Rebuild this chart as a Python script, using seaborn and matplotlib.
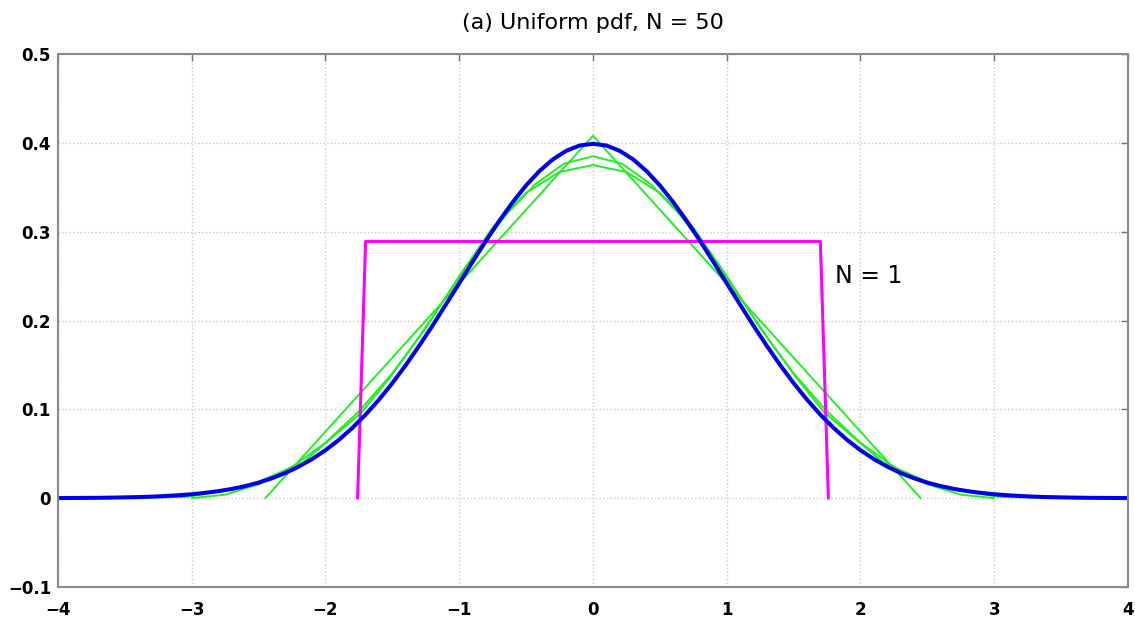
"""Sum of N uniform variables converging to the Gaussian pdf."""
import matplotlib
matplotlib.use("Agg")
import matplotlib.pyplot as plt
import seaborn as sns

sns.set_theme(style="whitegrid")
plt.rcParams["font.family"] = ["DejaVu Sans"]

# N = 1: uniform box
n1_x = [-1.76, -1.70, 1.70, 1.76]
n1_y = [0.0, 0.289, 0.289, 0.0]

# N = 2: triangle
n2_x = [-2.45, 0.0, 2.45]
n2_y = [0.0, 0.408, 0.0]

# N = 3
n3_x = [-3.0, -2.75, -2.5, -2.25, -2.0, -1.75, -1.5, -1.25, -1.0, -0.75, -0.5, -0.25, 0.0,
        0.25, 0.5, 0.75, 1.0, 1.25, 1.5, 1.75, 2.0, 2.25, 2.5, 2.75, 3.0]
n3_y = [0.0, 0.0039, 0.0156, 0.0352, 0.0625, 0.0977, 0.1406, 0.1914, 0.25, 0.3047, 0.3438, 0.3672, 0.375,
        0.3672, 0.3438, 0.3047, 0.25, 0.1914, 0.1406, 0.0977, 0.0625, 0.0352, 0.0156, 0.0039, 0.0]

# N = 4
n4_x = [-3.464, -3.031, -2.598, -2.165, -1.732, -1.516, -1.299, -1.083, -0.866, -0.650, -0.433, -0.217, 0.0,
        0.217, 0.433, 0.650, 0.866, 1.083, 1.299, 1.516, 1.732, 2.165, 2.598, 3.031, 3.464]
n4_y = [0.0, 0.0015, 0.0120, 0.0406, 0.0962, 0.1363, 0.1819, 0.2299, 0.2767, 0.3190, 0.3534, 0.3765, 0.3849,
        0.3765, 0.3534, 0.3190, 0.2767, 0.2299, 0.1819, 0.1363, 0.0962, 0.0406, 0.0120, 0.0015, 0.0]

# N = 50: close to the Gaussian
g_x = [-4.0, -3.9, -3.8, -3.7, -3.6, -3.5, -3.4, -3.3, -3.2, -3.1, -3.0, -2.9, -2.8, -2.7, -2.6, -2.5,
       -2.4, -2.3, -2.2, -2.1, -2.0, -1.9, -1.8, -1.7, -1.6, -1.5, -1.4, -1.3, -1.2, -1.1, -1.0, -0.9,
       -0.8, -0.7, -0.6, -0.5, -0.4, -0.3, -0.2, -0.1, 0.0, 0.1, 0.2, 0.3, 0.4, 0.5, 0.6, 0.7, 0.8, 0.9,
       1.0, 1.1, 1.2, 1.3, 1.4, 1.5, 1.6, 1.7, 1.8, 1.9, 2.0, 2.1, 2.2, 2.3, 2.4, 2.5, 2.6, 2.7, 2.8,
       2.9, 3.0, 3.1, 3.2, 3.3, 3.4, 3.5, 3.6, 3.7, 3.8, 3.9, 4.0]
g_y = [0.0001, 0.0002, 0.0003, 0.0004, 0.0006, 0.0009, 0.0012, 0.0017, 0.0024, 0.0033, 0.0044, 0.0060,
       0.0079, 0.0104, 0.0136, 0.0175, 0.0224, 0.0283, 0.0355, 0.0440, 0.0540, 0.0656, 0.0790, 0.0940,
       0.1109, 0.1295, 0.1497, 0.1714, 0.1942, 0.2179, 0.2420, 0.2661, 0.2897, 0.3123, 0.3332, 0.3521,
       0.3683, 0.3814, 0.3910, 0.3970, 0.3989, 0.3970, 0.3910, 0.3814, 0.3683, 0.3521, 0.3332, 0.3123,
       0.2897, 0.2661, 0.2420, 0.2179, 0.1942, 0.1714, 0.1497, 0.1295, 0.1109, 0.0940, 0.0790, 0.0656,
       0.0540, 0.0440, 0.0355, 0.0283, 0.0224, 0.0175, 0.0136, 0.0104, 0.0079, 0.0060, 0.0044, 0.0033,
       0.0024, 0.0017, 0.0012, 0.0009, 0.0006, 0.0004, 0.0003, 0.0002, 0.0001]

x_ticks = [-4, -3, -2, -1, 0, 1, 2, 3, 4]
y_ticks = [-0.1, 0, 0.1, 0.2, 0.3, 0.4, 0.5]
y_labels = ["-0.1", "0", "0.1", "0.2", "0.3", "0.4", "0.5"]

fig = plt.figure(figsize=(11.35, 6.23), dpi=100)
ax = fig.add_axes([0.0511, 0.0578, 0.9427, 0.8555])

green = "#22ee22"
for xs, ys in [(n2_x, n2_y), (n3_x, n3_y), (n4_x, n4_y)]:
    sns.lineplot(x=xs, y=ys, ax=ax, color=green, lw=1.4, sort=False, estimator=None)
sns.lineplot(x=n1_x, y=n1_y, ax=ax, color="#ff00ff", lw=2.2, sort=False, estimator=None)
sns.lineplot(x=g_x, y=g_y, ax=ax, color="#0000ee", lw=2.9, sort=False, estimator=None)

ax.text(1.81, 0.25, "N = 1", fontsize=17, va="center", ha="left", color="black")
ax.set_title("(a) Uniform pdf, N = 50", fontsize=16, pad=18, color="black")

ax.set_xlim(-4, 4)
ax.set_ylim(-0.1, 0.5)
ax.set_xticks(x_ticks)
ax.set_yticks(y_ticks)
ax.set_xticklabels([str(t).replace("-", "\u2212") for t in x_ticks], fontsize=12, fontweight="bold")
ax.set_yticklabels([s.replace("-", "\u2212") for s in y_labels], fontsize=12, fontweight="bold")
ax.grid(True, color="#c8c8c8", ls=":", lw=1.0)
ax.set_facecolor("white")
for sp in ax.spines.values():
    sp.set_color("#8a8a8a")
    sp.set_linewidth(1.5)
ax.tick_params(direction="in", length=5, color="#707070", width=1.0, top=True, right=True,
               labelcolor="black")
ax.tick_params(axis="x", pad=10)
ax.tick_params(axis="y", pad=5)

fig.savefig("out.png", dpi=100, facecolor="white")
plt.close()
